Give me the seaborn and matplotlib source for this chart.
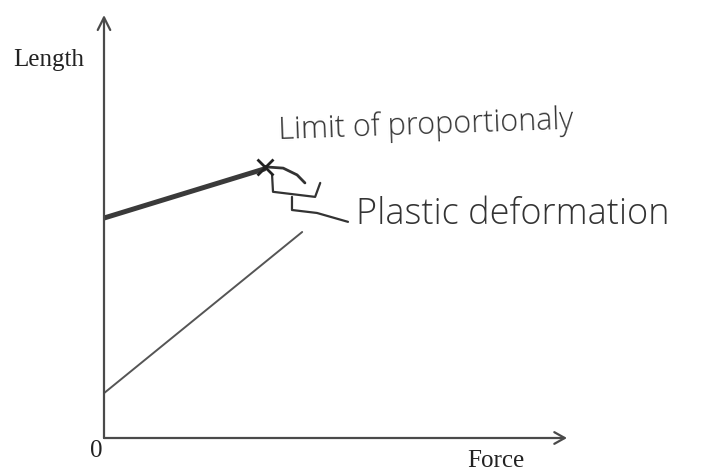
import numpy as np
import pandas as pd
import matplotlib
matplotlib.use("Agg")
import matplotlib.pyplot as plt
import seaborn as sns

# ---- data (Force vs Length, arbitrary units 0-100) ----
printed_force = [0.0, 42.8]
printed_length = [10.6, 48.7]
sketch_force = [0.0, 34.6]
sketch_length = [52.0, 63.6]
arc_force = [34.8, 38.7, 41.7, 43.4]
arc_length = [64.1, 63.8, 62.2, 60.3]
bracket_force = [36.3, 36.5, 45.6, 46.7]
bracket_length = [62.2, 58.2, 57.0, 60.3]
stem_force = [40.6, 40.6, 46.0, 52.7]
stem_length = [57.0, 53.9, 53.2, 51.1]
limit_point = (34.8, 64.0)
x_label = "Force"
y_label = "Length"
origin_label = "0"
label_limit = "Limit of proportionaly"
label_plastic = "Plastic deformation"

W, H = 702, 472
sns.set_style("white")
plt.rcParams['font.family'] = ['Liberation Serif', 'DejaVu Serif']

fig = plt.figure(figsize=(W / 100, H / 100), dpi=100)
ax_left, ax_right, ax_top, ax_bottom = 104, 567, 15, 438
ax = fig.add_axes([ax_left / W, 1 - ax_bottom / H, (ax_right - ax_left) / W, (ax_bottom - ax_top) / H])
ax.set_xlim(0, 100)
ax.set_ylim(0, 100)
for s in ax.spines.values():
    s.set_visible(False)
ax.set_xticks([])
ax.set_yticks([])
ax.patch.set_alpha(0)

axis_col = "#4a4a4a"
ax.annotate('', xy=(1, 0), xytext=(0, 0), xycoords='axes fraction',
            arrowprops=dict(arrowstyle='->,head_length=0.75,head_width=0.42', lw=1.6, color=axis_col,
                            shrinkA=0, shrinkB=0))
ax.annotate('', xy=(0, 1), xytext=(0, 0), xycoords='axes fraction',
            arrowprops=dict(arrowstyle='->,head_length=0.9,head_width=0.45', lw=1.6, color=axis_col,
                            shrinkA=0, shrinkB=0))

printed = pd.DataFrame({"Force": printed_force, "Length": printed_length})
sns.lineplot(data=printed, x="Force", y="Length", ax=ax, color="#555555", lw=1.4,
             sort=False, estimator=None)

sketch = pd.DataFrame({"Force": sketch_force, "Length": sketch_length})
sns.lineplot(data=sketch, x="Force", y="Length", ax=ax, color="#3a3a3a", lw=3.6,
             sort=False, estimator=None, solid_capstyle='round')

pen = "#333333"
sns.lineplot(x=arc_force, y=arc_length, ax=ax, color=pen, lw=2.0, sort=False, estimator=None)
sns.lineplot(x=bracket_force, y=bracket_length, ax=ax, color=pen, lw=1.6, sort=False, estimator=None)
sns.lineplot(x=stem_force, y=stem_length, ax=ax, color=pen, lw=1.6, sort=False, estimator=None)
ax.plot([limit_point[0]], [limit_point[1]], marker='x', ms=11, mew=2.0, color="#222222")

ax.set_xlabel("")
ax.set_ylabel("")

fig.text(49 / W, 1 - 60 / H, y_label, ha='center', va='center', fontsize=18, color="#222222")
fig.text(496 / W, 1 - 461 / H, x_label, ha='center', va='center', fontsize=18, color="#222222")
fig.text(96 / W, 1 - 451 / H, origin_label, ha='center', va='center', fontsize=18, color="#222222")

hand = ['Open Sans', 'DejaVu Sans']
fig.text(278 / W, 1 - 126 / H, label_limit, ha='left', va='center', fontsize=22,
         color="#333333", family=hand, fontweight='light', rotation=2)
fig.text(356 / W, 1 - 214 / H, label_plastic, ha='left', va='center', fontsize=26,
         color="#333333", family=hand, fontweight='light')

fig.savefig("out.png", dpi=100)
